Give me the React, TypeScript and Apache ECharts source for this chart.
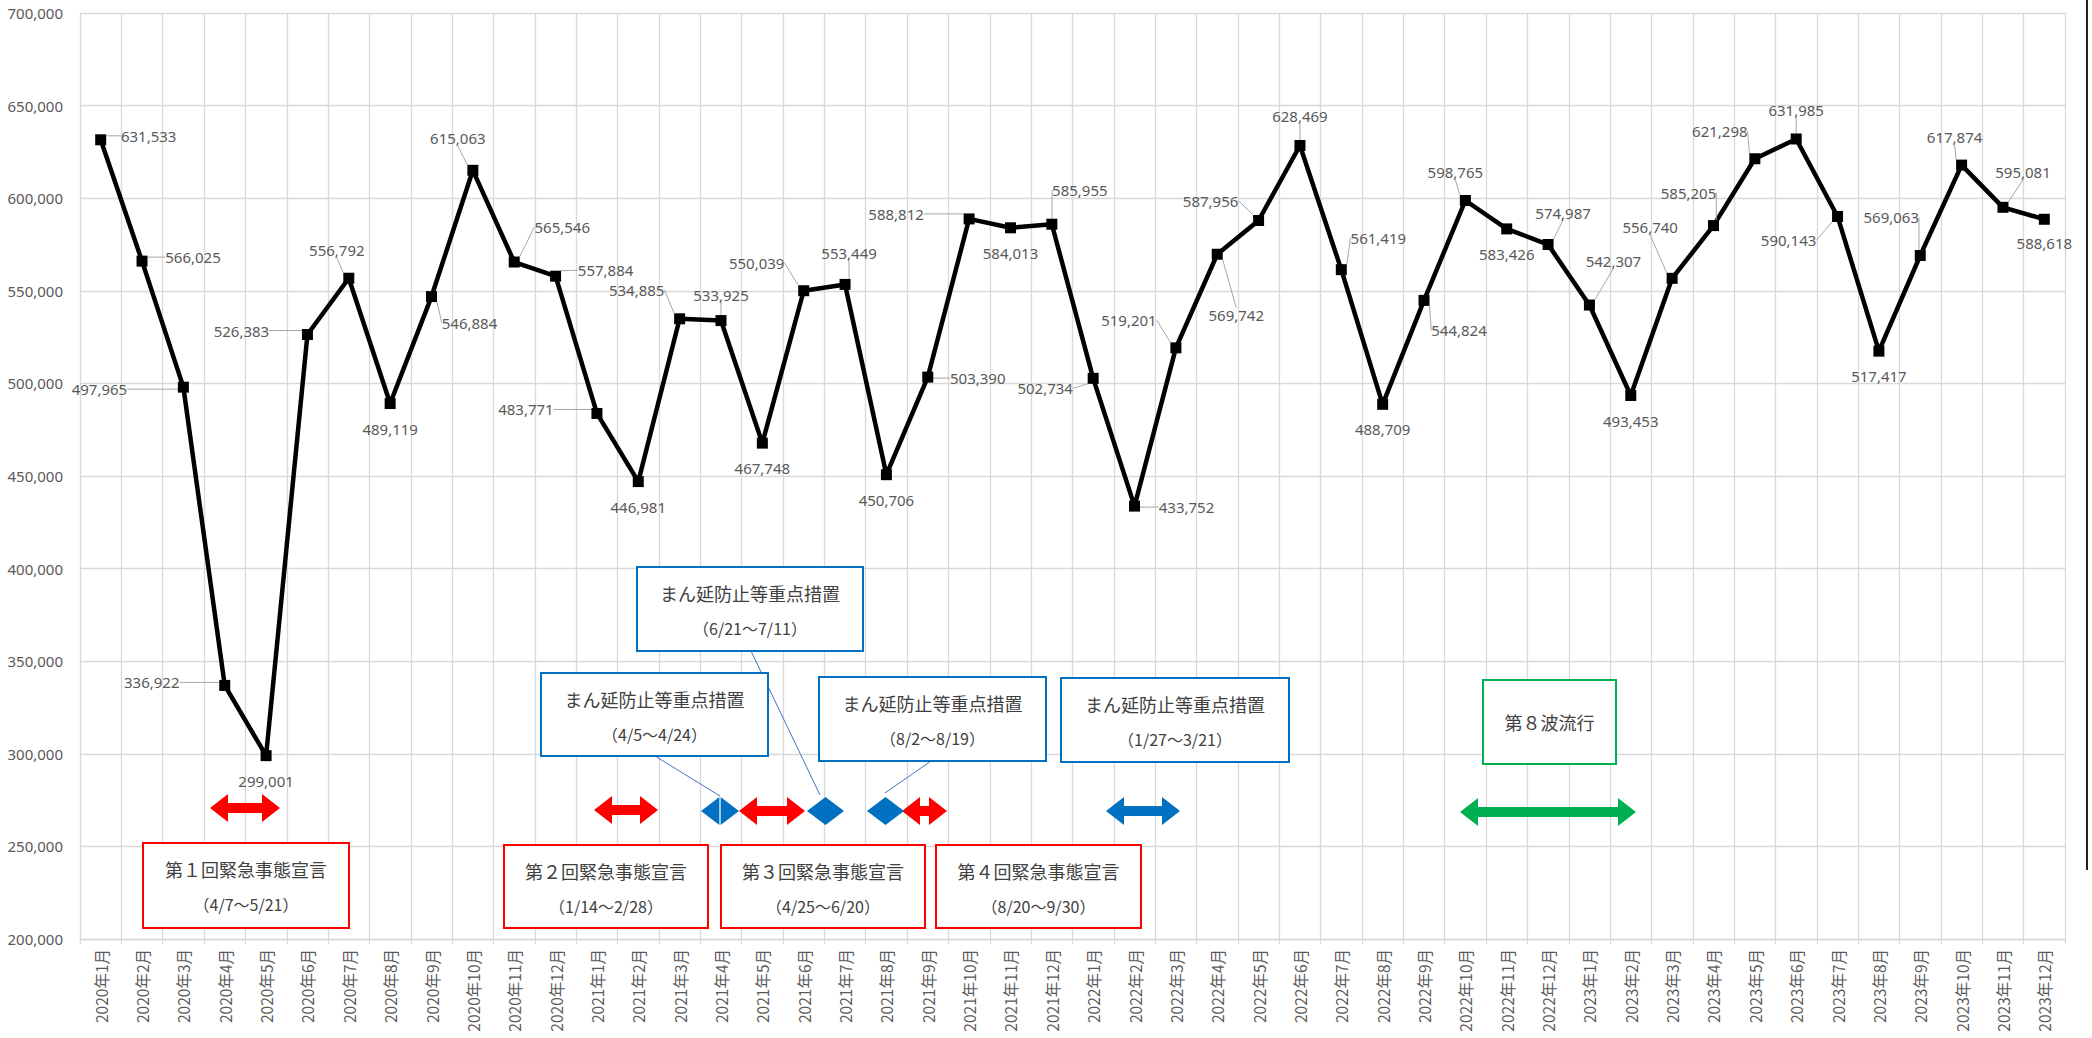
import React, { useEffect, useRef } from "react";
import * as echarts from "echarts";

const categories: string[] = [
  "2020年1月", "2020年2月", "2020年3月", "2020年4月", "2020年5月", "2020年6月",
  "2020年7月", "2020年8月", "2020年9月", "2020年10月", "2020年11月", "2020年12月",
  "2021年1月", "2021年2月", "2021年3月", "2021年4月", "2021年5月", "2021年6月",
  "2021年7月", "2021年8月", "2021年9月", "2021年10月", "2021年11月", "2021年12月",
  "2022年1月", "2022年2月", "2022年3月", "2022年4月", "2022年5月", "2022年6月",
  "2022年7月", "2022年8月", "2022年9月", "2022年10月", "2022年11月", "2022年12月",
  "2023年1月", "2023年2月", "2023年3月", "2023年4月", "2023年5月", "2023年6月",
  "2023年7月", "2023年8月", "2023年9月", "2023年10月", "2023年11月", "2023年12月",
];

const values: number[] = [
  631533, 566025, 497965, 336922, 299001, 526383, 556792, 489119, 546884, 615063, 565546, 557884,
  483771, 446981, 534885, 533925, 467748, 550039, 553449, 450706, 503390, 588812, 584013, 585955,
  502734, 433752, 519201, 569742, 587956, 628469, 561419, 488709, 544824, 598765, 583426, 574987,
  542307, 493453, 556740, 585205, 621298, 631985, 590143, 517417, 569063, 617874, 595081, 588618,
];

const yMin = 200000;
const yMax = 700000;
const yStep = 50000;

// label placement (offset of label centre from its point, px)
const labelOffsets: [number, number][] = [
  [48, -4], [51, -4], [-84, 2], [-73, -3], [0, 25], [-66, -4], [-12, -28], [0, 25], [38, 26], [-15, -32], [48, -35], [50, -6],
  [-71, -4], [0, 25], [-43, -29], [0, -26], [0, 25], [-47, -28], [4, -31], [0, 25], [50, 1], [-73, -5], [0, 25], [28, -34],
  [-48, 10], [52, 1], [-47, -28], [19, 61], [-48, -20], [0, -29], [37, -32], [0, 25], [35, 30], [-10, -28], [0, 25], [15, -32],
  [24, -44], [0, 25], [-22, -51], [-25, -33], [-35, -28], [0, -29], [-49, 24], [0, 25], [-29, -38], [-7, -28], [20, -35], [0, 24],
];

// annotation boxes
const redBoxTitles = ["第１回緊急事態宣言", "第２回緊急事態宣言", "第３回緊急事態宣言", "第４回緊急事態宣言"];
const redBoxPeriods = ["（4/7～5/21）", "（1/14～2/28）", "（4/25～6/20）", "（8/20～9/30）"];
const blueBoxTitle = "まん延防止等重点措置";
const blueBoxPeriods = ["（6/21～7/11）", "（4/5～4/24）", "（8/2～8/19）", "（1/27～3/21）"];
const greenBoxTitle = "第８波流行";

const RED = "#ff0000";
const BLUE = "#0070c0";
const GREEN = "#00b050";
const TXT = "#404040";
const CJK = '"Noto Sans CJK JP", "Noto Sans", sans-serif';

const redBoxRects = [
  [143, 843, 206, 85],
  [504, 845, 204, 83],
  [721, 845, 204, 83],
  [936, 845, 205, 83],
];
const blueBoxRects = [
  [637, 567, 226, 84],
  [541, 673, 227, 83],
  [819, 677, 227, 84],
  [1061, 678, 228, 84],
];
const greenBoxRect = [1483, 680, 133, 84];

// double arrows: [x1, x2, cy, color]
const arrows: [number, number, number, string][] = [
  [210, 280, 808, RED],
  [594, 658, 810, RED],
  [739, 805, 811, RED],
  [902, 947, 811, RED],
  [1106, 1180, 811, BLUE],
  [1460, 1636, 812, GREEN],
];
// diamonds (arrow heads only): [x1, x2, cy, split]
const diamonds: [number, number, number, boolean][] = [
  [701, 739, 811, true],
  [807, 844, 811, false],
  [867, 904, 811, false],
];
const leaders = [
  [655, 756, 720, 796],
  [751, 651, 820, 795],
  [931, 761, 885, 793],
];

function arrowPoints(x1: number, x2: number, cy: number) {
  const H = 28, t = 10, h = 18;
  return [
    [x1, cy], [x1 + h, cy - H / 2], [x1 + h, cy - t / 2], [x2 - h, cy - t / 2], [x2 - h, cy - H / 2],
    [x2, cy], [x2 - h, cy + H / 2], [x2 - h, cy + t / 2], [x1 + h, cy + t / 2], [x1 + h, cy + H / 2],
  ];
}

function txt(text: string, x: number, y: number, size: number) {
  return {
    type: "text", z: 101,
    style: { text, x, y, align: "center", verticalAlign: "middle", textAlign: "center", textVerticalAlign: "middle", fill: TXT, fontSize: size, fontFamily: CJK },
  };
}

function boxGraphics(r: number[], color: string, lines: string[]) {
  const [x, y, w, h] = r;
  const els: any[] = [
    { type: "rect", shape: { x, y, width: w, height: h }, style: { fill: "#fff", stroke: color, lineWidth: 2 }, z: 100 },
  ];
  const cx = x + w / 2;
  if (lines.length === 1) {
    els.push(txt(lines[0], cx, y + h / 2, 18));
  } else {
    els.push(txt(lines[0], cx, y + 26, 18));
    els.push(txt(lines[1], cx, y + 61, 16));
  }
  return els;
}

function buildGraphics() {
  const g: any[] = [];
  leaders.forEach(([x1, y1, x2, y2]) => {
    g.push({ type: "line", z: 99, shape: { x1, y1, x2, y2 }, style: { stroke: "#4472c4", lineWidth: 1 } });
  });
  redBoxRects.forEach((r, i) => g.push(...boxGraphics(r, RED, [redBoxTitles[i], redBoxPeriods[i]])));
  blueBoxRects.forEach((r, i) => g.push(...boxGraphics(r, BLUE, [blueBoxTitle, blueBoxPeriods[i]])));
  g.push(...boxGraphics(greenBoxRect, GREEN, [greenBoxTitle]));
  arrows.forEach(([x1, x2, cy, c]) => {
    g.push({ type: "polygon", z: 100, shape: { points: arrowPoints(x1, x2, cy) }, style: { fill: c } });
  });
  diamonds.forEach(([x1, x2, cy, split]) => {
    const mid = (x1 + x2) / 2;
    const H = 28;
    if (split) {
      g.push({ type: "polygon", z: 100, shape: { points: [[x1, cy], [mid - 0.6, cy - H / 2], [mid - 0.6, cy + H / 2]] }, style: { fill: BLUE } });
      g.push({ type: "polygon", z: 100, shape: { points: [[x2, cy], [mid + 0.6, cy - H / 2], [mid + 0.6, cy + H / 2]] }, style: { fill: BLUE } });
    } else {
      g.push({ type: "polygon", z: 100, shape: { points: [[x1, cy], [mid, cy - H / 2], [x2, cy], [mid, cy + H / 2]] }, style: { fill: BLUE } });
    }
  });
  g.push({ type: "line", z: 100, shape: { x1: 2087, y1: 0, x2: 2087, y2: 870 }, style: { stroke: "#222", lineWidth: 2 } });
  return g;
}

export default function App() {
  const ref = useRef<HTMLDivElement>(null);
  useEffect(() => {
    if (!ref.current) return;
    const chart = echarts.init(ref.current, null, { renderer: "svg" });
    const fmt = (v: number) => v.toLocaleString("en-US");
    const data = values.map((v, i) => {
      const [dx, dy] = labelOffsets[i];
      const plainBelow = dx === 0 && dy > 0;
      return { value: v, labelLine: { show: !plainBelow } };
    });
    chart.setOption({
      animation: false,
      backgroundColor: "#fff",
      grid: { left: 80, right: 27, top: 13, bottom: 99, containLabel: false, outerBoundsMode: "none" },
      xAxis: {
        type: "category",
        data: categories,
        boundaryGap: true,
        axisLine: { show: true, lineStyle: { color: "#d9d9d9", width: 1.3 } },
        axisTick: { show: true, interval: 0, length: 5, lineStyle: { color: "#d9d9d9", width: 1.3 } },
        axisLabel: { interval: 0, rotate: 90, color: "#595959", fontSize: 15.5, fontFamily: CJK, margin: 10, hideOverlap: false },
        splitLine: { show: true, interval: 0, lineStyle: { color: "#d9d9d9", width: 1.3 } },
      },
      yAxis: {
        type: "value",
        min: yMin,
        max: yMax,
        interval: yStep,
        axisLine: { show: false },
        axisTick: { show: false },
        axisLabel: { color: "#595959", fontSize: 15, fontFamily: '"Noto Sans", sans-serif', margin: 17, formatter: (v: number) => fmt(v) },
        splitLine: { show: true, lineStyle: { color: "#d9d9d9", width: 1.3 } },
      },
      series: [
        {
          type: "line",
          data,
          symbol: "rect",
          symbolSize: 11,
          lineStyle: { color: "#000", width: 4.5 },
          itemStyle: { color: "#000" },
          label: {
            show: true,
            position: "inside",
            color: "#595959",
            fontSize: 15,
            fontFamily: '"Noto Sans", sans-serif',
            formatter: (p: any) => fmt(p.value),
          },
          labelLine: { show: true, lineStyle: { color: "#a6a6a6", width: 1 } },
          labelLayout: (p: any) => {
            const [dx, dy] = labelOffsets[p.dataIndex];
            return { dx, dy };
          },
          z: 5,
        },
      ],
      graphic: { elements: buildGraphics() },
    });
    return () => chart.dispose();
  }, []);
  return <div ref={ref} style={{ position: "absolute", left: 0, top: 0, width: 2092, height: 1038 }} />;
}
